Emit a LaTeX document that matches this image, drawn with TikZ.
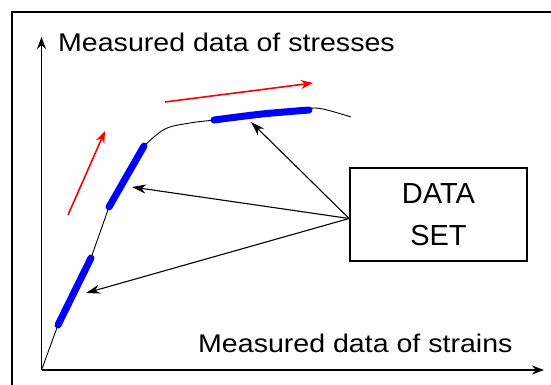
\documentclass[tikz,border=0pt]{standalone}
\usepackage{fontspec}
\setmainfont{Liberation Sans}
\newfontfamily\axisfont[FakeStretch=1.12]{Liberation Sans}
\usetikzlibrary{arrows.meta}
\begin{document}
\begin{tikzpicture}[x=1pt,y=-1pt,
  axis/.style={line width=1.8pt,-{Stealth[length=12pt,width=9pt]}},
  trend/.style={red,line width=1.6pt,-{Stealth[length=12pt,width=9pt]}},
  pointer/.style={black,line width=1.1pt,-{Stealth[length=14pt,width=9pt]}},
  dataseg/.style={blue,line width=7pt,line cap=round},
  axislabel/.style={font=\axisfont\fontsize{25.5}{30}\selectfont}]
\tikzstyle{every node}+=[inner sep=0pt]
\useasboundingbox (0,0) rectangle (551,385);
\draw [line width=2.8pt] (12,12) rectangle (640,460);
% axes
\coordinate (O) at (41.5,370);
\coordinate (ytip) at (41.5,37);
\coordinate (xtip) at (544,370);
\draw [axis] (O) -- (ytip);
\draw [axis] (O) -- (xtip);
\node (ylab) [axislabel,anchor=base west] at (58,52) {Measured data of stresses};
\node (xlab) [axislabel,anchor=base west] at (198,352) {Measured data of strains};
% stress-strain curve
\draw [line width=0.9pt] (O) -- (58,325) -- (91,258) -- (109,207) -- (144,146);
\draw [line width=0.9pt] plot [smooth,tension=0.6] coordinates {(144,146) (165,129) (190,123) (214,120) (262,114) (300,109.5) (320,108.5) (351,117)};
\draw [dataseg] (58,325) -- (91,258);
\draw [dataseg] (109,207) -- (144,146);
\draw [dataseg] plot [smooth] coordinates {(214,120) (262,114) (309,110)};
% load direction
\coordinate (r1s) at (68,215);
\coordinate (r1e) at (105,131);
\coordinate (r2s) at (165,102);
\coordinate (r2e) at (313,83);
\draw [trend] (r1s) -- (r1e);
\draw [trend] (r2s) -- (r2e);
% data set box
\node (box) [draw,line width=1.8pt,minimum width=177pt,minimum height=93pt,align=center,
  font=\fontsize{29}{42}\selectfont] at (438.5,214.5) {DATA\\SET};
\coordinate (hub) at ([yshift=-4pt]box.west);
\coordinate (p1) at (251,122);
\coordinate (p2) at (132,187);
\coordinate (p3) at (86,293);
\foreach \p in {p1,p2,p3}
  \draw [pointer] (hub) -- (\p);
\end{tikzpicture}
\end{document}
